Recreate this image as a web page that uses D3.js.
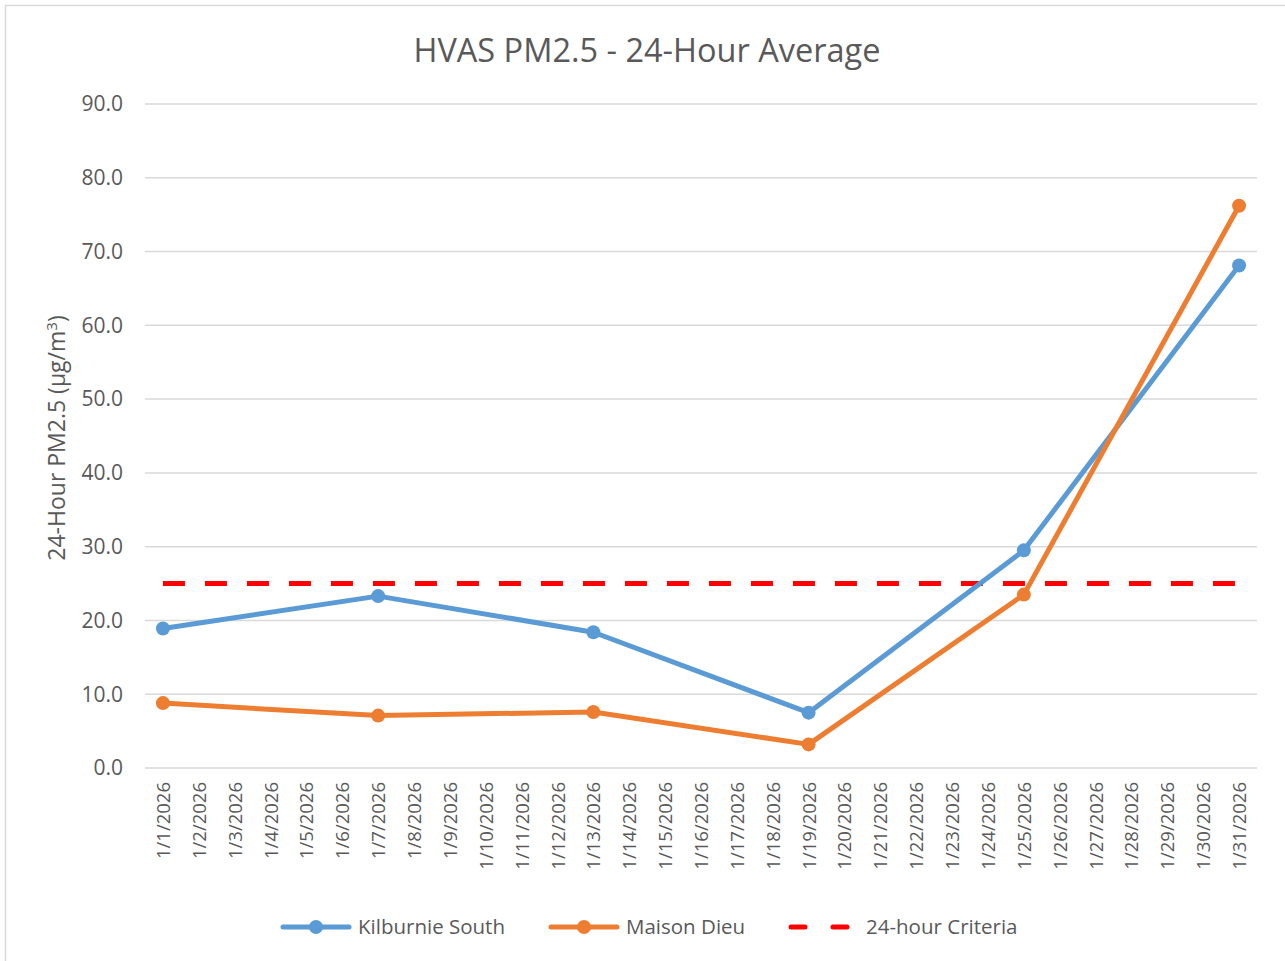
<!DOCTYPE html>
<meta charset="utf-8">
<style>
body { margin: 0; background: #fff; }
text { font-family: "Open Sans", "Noto Sans", sans-serif; fill: #595959; }
</style>
<svg width="1285" height="961"></svg>
<script src="https://d3js.org/d3.v7.min.js"></script>
<script>

// data
var dates = [];
for (var i = 1; i <= 31; i++) dates.push("1/" + i + "/2026");

var kilburnieDates = ["1/1/2026", "1/7/2026", "1/13/2026", "1/19/2026", "1/25/2026", "1/31/2026"];
var kilburnieValues = [18.9, 23.3, 18.4, 7.5, 29.5, 68.1];
var maisonDates = ["1/1/2026", "1/7/2026", "1/13/2026", "1/19/2026", "1/25/2026", "1/31/2026"];
var maisonValues = [8.8, 7.1, 7.6, 3.2, 23.5, 76.2];
var criteriaValue = 25;
var yTicks = [0, 10, 20, 30, 40, 50, 60, 70, 80, 90];

var svg = d3.select("svg"),
    width = +svg.attr("width"),
    height = +svg.attr("height");

// chart border
svg.append("rect")
    .attr("x", 5.5).attr("y", 5.5)
    .attr("width", width + 10).attr("height", height + 10)
    .attr("fill", "none")
    .attr("stroke", "#d9d9d9")
    .attr("stroke-width", 1.5);

var plotLeft = 145, plotRight = 1257, plotTop = 104, plotBottom = 768;

var x = d3.scalePoint()
    .domain(dates)
    .range([plotLeft, plotRight])
    .padding(0.5);

var y = d3.scaleLinear()
    .domain([0, 90])
    .range([plotBottom, plotTop]);

// gridlines
svg.append("g")
  .selectAll("line")
  .data(yTicks)
  .enter().append("line")
    .attr("x1", plotLeft).attr("x2", plotRight)
    .attr("y1", function(d) { return y(d); })
    .attr("y2", function(d) { return y(d); })
    .attr("stroke", "#d9d9d9")
    .attr("stroke-width", 1.5);

// y labels
svg.append("g")
  .selectAll("text")
  .data(yTicks)
  .enter().append("text")
    .attr("x", plotLeft - 22)
    .attr("y", function(d) { return y(d); })
    .attr("dy", "0.35em")
    .attr("text-anchor", "end")
    .style("font-size", "21px")
    .text(function(d) { return d.toFixed(1); });

// x labels
svg.append("g")
  .selectAll("text")
  .data(dates)
  .enter().append("text")
    .attr("transform", function(d) { return "translate(" + (x(d) + 7) + "," + (plotBottom + 14) + ") rotate(-90)"; })
    .attr("text-anchor", "end")
    .style("font-size", "18.5px")
    .text(function(d) { return d; });

// title
svg.append("text")
    .attr("x", 647).attr("y", 62)
    .attr("text-anchor", "middle")
    .style("font-size", "32.5px")
    .text("HVAS PM2.5 - 24-Hour Average");

// y axis title
var yt = svg.append("text")
    .attr("transform", "translate(65," + ((plotTop + plotBottom) / 2 + 2) + ") rotate(-90)")
    .attr("text-anchor", "middle")
    .style("font-size", "23px");
yt.append("tspan").text("24-Hour PM2.5 (µg/m");
yt.append("tspan").attr("dy", -8).style("font-size", "15px").text("3");
yt.append("tspan").attr("dy", 8).text(")");

// criteria line
svg.append("line")
    .attr("x1", x(dates[0])).attr("x2", x(dates[dates.length - 1]))
    .attr("y1", y(criteriaValue)).attr("y2", y(criteriaValue))
    .attr("stroke", "#ff0000")
    .attr("stroke-width", 5)
    .attr("stroke-dasharray", "22,20");

function drawSeries(ds, vs, color) {
  var pts = ds.map(function(d, i) { return [x(d), y(vs[i])]; });
  svg.append("path")
      .attr("d", d3.line()(pts))
      .attr("fill", "none")
      .attr("stroke", color)
      .attr("stroke-width", 5)
      .attr("stroke-linejoin", "round");
  svg.append("g").selectAll("circle")
    .data(pts)
    .enter().append("circle")
      .attr("cx", function(d) { return d[0]; })
      .attr("cy", function(d) { return d[1]; })
      .attr("r", 7)
      .attr("fill", color);
}

drawSeries(kilburnieDates, kilburnieValues, "#5b9bd5");
drawSeries(maisonDates, maisonValues, "#ed7d31");

// legend
var legend = [
  {name: "Kilburnie South", color: "#5b9bd5", x: 283, marker: true},
  {name: "Maison Dieu", color: "#ed7d31", x: 551, marker: true},
  {name: "24-hour Criteria", color: "#ff0000", x: 791, marker: false}
];
var lg = svg.append("g").selectAll("g")
  .data(legend)
  .enter().append("g")
    .attr("transform", function(d) { return "translate(" + d.x + ",927)"; });
lg.append("line")
    .attr("x1", 0).attr("x2", 66)
    .attr("stroke", function(d) { return d.color; })
    .attr("stroke-width", 5)
    .attr("stroke-linecap", "round")
    .attr("stroke-dasharray", function(d) { return d.marker ? null : "14,28"; });
lg.filter(function(d) { return d.marker; }).append("circle")
    .attr("cx", 33).attr("r", 7)
    .attr("fill", function(d) { return d.color; });
lg.append("text")
    .attr("x", 75).attr("dy", "0.35em")
    .style("font-size", "20.5px")
    .text(function(d) { return d.name; });

</script>
